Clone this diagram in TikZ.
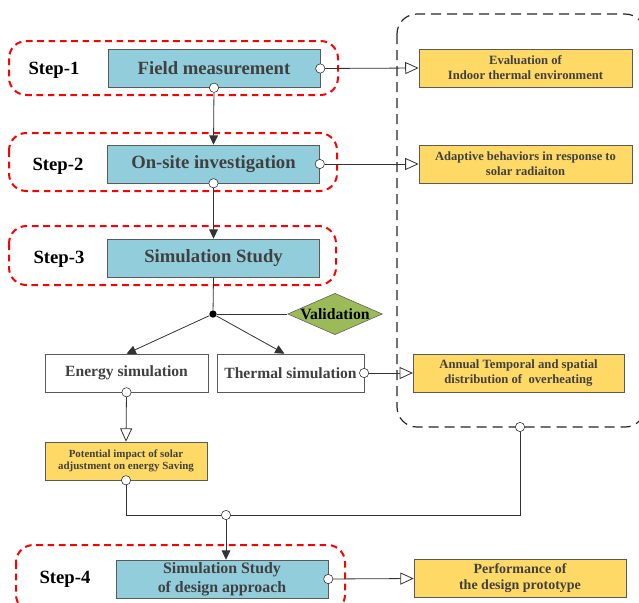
\documentclass[tikz,border=0pt]{standalone}
\usepackage{fontspec}
\setmainfont{Liberation Serif}
\usetikzlibrary{arrows.meta,shapes.geometric}
\definecolor{boxblue}{RGB}{146,205,220}
\definecolor{boxyellow}{RGB}{255,217,102}
\definecolor{boxgreen}{RGB}{155,187,89}
\definecolor{boxline}{RGB}{90,90,90}
\definecolor{txtgray}{RGB}{64,64,64}
\tikzset{
  stepbox/.style={draw=boxline, fill=boxblue, text=txtgray, font=\bfseries\fontsize{14}{16}\selectfont,
    minimum width=159pt, minimum height=28.5pt, inner sep=0pt, align=center},
  resbox/.style={draw=boxline, fill=boxyellow, text=txtgray, minimum width=160pt,
    minimum height=28.5pt, inner sep=0pt, align=center},
  simbox/.style={draw=boxline, fill=white, text=txtgray, font=\bfseries\fontsize{11.7}{14}\selectfont,
    minimum height=28.5pt, inner sep=0pt},
  steplabel/.style={font=\bfseries\fontsize{14}{16}\selectfont},
  stepframe/.style={draw=red, line width=1.5pt, dash pattern=on 5pt off 3.5pt, rounded corners=13pt},
  port/.style={circle, draw=black!85, fill=white, inner sep=0pt, minimum size=7pt},
  link/.style={draw=black!80, line width=0.6pt},
  tofill/.style={link, -{Triangle[length=7pt,width=6.5pt]}},
  toopen/.style={link, -{Triangle[open,length=10pt,width=9pt,fill=white]}},
}
\begin{document}
\begin{tikzpicture}[x=0.75pt,y=-0.75pt]
  \useasboundingbox (0,0) rectangle (639,603);

  % frames
  \draw[stepframe] (9,41) rectangle (338,95);
  \draw[stepframe] (9,133) rectangle (337,191);
  \draw[stepframe] (9,226) rectangle (336,285);
  \draw[stepframe] (16,545) rectangle (345,612);
  \draw[black!85, line width=0.9pt, dash pattern=on 7.5pt off 4.5pt, rounded corners=15pt]
    (397,14) rectangle (645,427);

  % steps
  \node[steplabel] (l1) at (54,70) {Step-1};
  \node[steplabel] (l2) at (58,166) {Step-2};
  \node[steplabel] (l3) at (59,259) {Step-3};
  \node[steplabel] (l4) at (65,579) {Step-4};

  \node[stepbox] (fm) at (214,68.5) {Field measurement};
  \node[stepbox] (ons) at (213.5,164) {On-site investigation};
  \node[stepbox] (sim) at (213.5,258) {Simulation Study};
  \node[stepbox, font=\bfseries\fontsize{11.9}{14}\selectfont] (des) at (222,579) {Simulation Study\\of design approach};

  % results
  \node[resbox, font=\bfseries\fontsize{9.5}{11.25}\selectfont] (eva) at (525.5,68) {Evaluation of\\Indoor thermal environment};
  \node[resbox, font=\bfseries\fontsize{9.4}{11.25}\selectfont] (ada) at (525.5,164) {Adaptive behaviors in response to\\solar radiaiton};
  \node[resbox, font=\bfseries\fontsize{9.5}{11.25}\selectfont, minimum width=158pt] (ann) at (518.5,373) {Annual Temporal and spatial\\distribution of~ overheating};
  \node[resbox, font=\bfseries\fontsize{8.2}{9.4}\selectfont, minimum width=121.5pt] (pot) at (126,461) {Potential impact of solar\\adjustment on energy Saving};
  \node[resbox, font=\bfseries\fontsize{10.5}{12}\selectfont, minimum width=159pt] (perf) at (520,578.5) {Performance of\\the design prototype};

  % simulations
  \node[simbox, minimum width=122pt] (ene) at (126.5,373) {Energy simulation};
  \node[simbox, minimum width=110pt] (the) at (290.5,373) {Thermal simulation};
  \node[diamond, draw=boxline, fill=boxgreen, inner sep=0pt, minimum width=71pt, minimum height=31pt,
    label={[font=\bfseries\fontsize{11.8}{13}\selectfont]center:Validation}] (val) at (335,314) {};
  \node[circle, fill=black, inner sep=0pt, minimum size=5.5pt] (dot) at (213,314) {};

  % ports
  \node[port] (fmB) at (fm.south) {};
  \node[port] (fmR) at (fm.east) {};
  \node[port] (onsB) at (ons.south) {};
  \node[port] (onsR) at (ons.east) {};
  \node[port] (theR) at (the.east) {};
  \node[port] (eneB) at (ene.south) {};
  \node[port] (potB) at (pot.south) {};
  \node[port] (frB) at (520,427) {};
  \node[port] (jn) at (226,515) {};
  \node[port] (desR) at (des.east) {};

  % connectors
  \draw[tofill] (fmB) -- (ons.north);
  \draw[tofill] (onsB) -- (sim.north);
  \draw[link] (sim.south) -- (dot);
  \draw[link] (dot) -- (val.west);
  \draw[tofill] (dot) -- (ene.north);
  \draw[tofill] (dot) -- ([xshift=-4.5pt]the.north);
  \draw[toopen] (fmR) -- (eva.west);
  \draw[toopen] (onsR) -- (ada.west);
  \draw[toopen] (theR) -- (ann.west);
  \draw[toopen] (eneB) -- (pot.north);
  \draw[link] (potB) |- (jn) -| (frB);
  \draw[tofill] (jn) -- (jn |- des.north);
  \draw[toopen] (desR) -- (perf.west);
\end{tikzpicture}
\end{document}
